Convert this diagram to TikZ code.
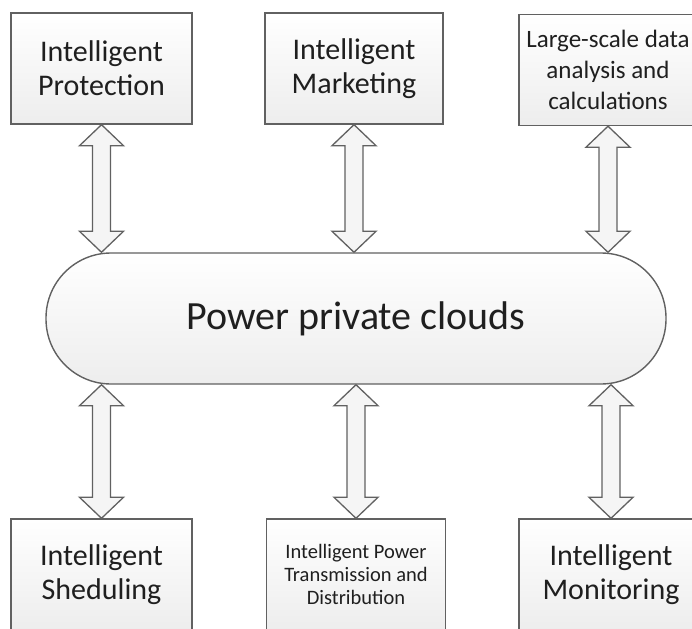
\documentclass[tikz,border=0pt]{standalone}
\usepackage{fontspec}
\setmainfont{Carlito}
\usetikzlibrary{calc, positioning}
\tikzset{
    unitbox/.style={rectangle, minimum width=181pt, minimum height=111pt, inner sep=0pt, align=center, draw=black!62, line width=1.4pt, top color=white, bottom color=black!7, text=black!88, font=\fontsize{30}{34}\selectfont},
    cloudbox/.style={rectangle, rounded corners=65pt, minimum width=620pt, minimum height=131pt, inner sep=0pt, draw=black!62, line width=1.4pt, top color=white, bottom color=black!7, text=black!88, font=\fontsize{40}{44}\selectfont},
    blockarrow/.style={draw=black!62, line width=1.3pt, fill=black!4, line join=miter}
}

\begin{document}
\begin{tikzpicture}[x=1pt, y=-1pt]
        \useasboundingbox (0,0) rectangle (692,628);
        \clip (0,0) rectangle (692,628);

        % Center Cloud
        \node[cloudbox] (cloud) at (356, 318.5) {Power private clouds};

        % Top Boxes
        \node[unitbox] (prot) at (101.5, 68.5) {Intelligent\\Protection};
        \node[unitbox, minimum width=178pt] (mark) at (354, 68.5) {Intelligent\\Marketing};
        \node[unitbox, minimum width=178pt, font=\fontsize{25}{31}\selectfont] (data) at (608, 70) {Large-scale data\\analysis and\\calculations};

        % Bottom Boxes
        \node[unitbox] (shed) at (101.5, 574.5) {Intelligent\\Sheduling};
        \node[unitbox, minimum width=179pt, font=\fontsize{20.5}{23}\selectfont] (trans) at (356, 574.5) {Intelligent Power\\Transmission and\\Distribution};
        \node[unitbox, minimum width=184pt] (moni) at (611, 574.5) {Intelligent\\Monitoring};

        % Double Arrows
        \foreach \b in {prot, mark, data} {
            \path (\b.south) coordinate (s) (\b.south |- cloud.north) coordinate (e);
            \draw[blockarrow] (s) -- ($(s)+(22,21)$) -- ($(s)+(9,21)$) -- ($(e)+(9,-21)$) -- ($(e)+(22,-21)$) -- (e)
                -- ($(e)+(-22,-21)$) -- ($(e)+(-9,-21)$) -- ($(s)+(-9,21)$) -- ($(s)+(-22,21)$) -- cycle;
        }
        \foreach \b in {shed, trans, moni} {
            \path (\b.north |- cloud.south) coordinate (s) (\b.north) coordinate (e);
            \draw[blockarrow] (s) -- ($(s)+(22,21)$) -- ($(s)+(9,21)$) -- ($(e)+(9,-21)$) -- ($(e)+(22,-21)$) -- (e)
                -- ($(e)+(-22,-21)$) -- ($(e)+(-9,-21)$) -- ($(s)+(-9,21)$) -- ($(s)+(-22,21)$) -- cycle;
        }
    \end{tikzpicture}
\end{document}
